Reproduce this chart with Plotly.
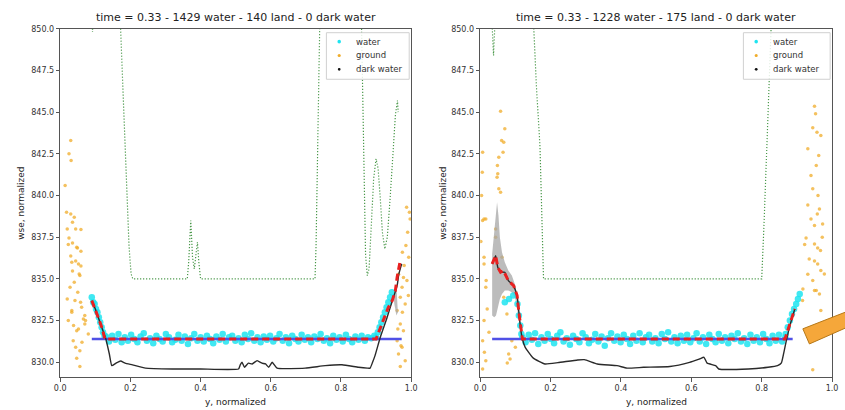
import plotly.graph_objects as go

# ---------------- data ----------------
titles = ["time = 0.33 - 1429 water - 140 land - 0 dark water",
          "time = 0.33 - 1228 water - 175 land - 0 dark water"]
x_ticks = [0.0, 0.2, 0.4, 0.6, 0.8, 1.0]
y_ticks = [830.0, 832.5, 835.0, 837.5, 840.0, 842.5, 845.0, 847.5, 850.0]
legend_names = ["water", "ground", "dark water"]

# ----- left panel -----
L_green_x = [0.088, 0.092, 0.096, 0.168, 0.172, 0.178, 0.184, 0.190, 0.196, 0.202, 0.207,
             0.362, 0.366, 0.372, 0.377, 0.382, 0.387, 0.391, 0.395, 0.400,
             0.726, 0.729, 0.733, 0.738, 0.741,
             0.857, 0.862, 0.866, 0.870, 0.875, 0.880, 0.886, 0.893, 0.900, 0.906, 0.912,
             0.918, 0.925, 0.932, 0.940, 0.948, 0.955, 0.961, 0.963]
L_green_y = [852.0, 849.8, 852.0, 852.0, 850.0, 847.0, 843.5, 840.0, 837.0, 835.3, 835.0,
             835.0, 836.0, 838.5, 836.3, 835.6, 836.5, 837.2, 836.0, 835.0,
             835.0, 837.0, 842.0, 848.0, 852.0,
             852.0, 846.0, 840.0, 836.5, 835.2, 835.6, 838.0, 841.0, 842.2, 841.6, 839.8,
             837.8, 836.8, 837.5, 839.8, 842.5, 844.8, 845.7, 845.0]

L_ground_x = [0.030, 0.025, 0.031, 0.014, 0.030, 0.040, 0.035, 0.044, 0.059, 0.025, 0.035, 0.049,
              0.059, 0.030, 0.044, 0.059, 0.035, 0.054, 0.023, 0.047, 0.033, 0.052, 0.056, 0.028,
              0.042, 0.033, 0.061, 0.070, 0.023, 0.047, 0.080, 0.037, 0.056, 0.047, 0.056, 0.070,
              0.033, 0.066, 0.072, 0.040, 0.050, 0.020, 0.062, 0.044, 0.052, 0.058, 0.038, 0.018,
              0.020,
              0.964, 0.978, 0.988, 0.974, 0.969, 0.983, 0.960, 0.969, 0.978, 0.960, 0.974, 0.964,
              0.983, 0.969, 0.987, 0.997, 0.990, 0.985, 0.993, 0.980, 0.975, 0.992, 0.962, 0.971,
              0.975, 0.995]
L_ground_y = [843.3, 842.5, 842.1, 840.6, 838.9, 838.7, 838.4, 838.0, 837.96, 837.45, 837.15, 836.86,
              836.66, 836.37, 836.07, 835.77, 835.48, 835.3, 837.06, 836.9, 836.0, 835.9, 835.2, 834.5,
              833.7, 833.1, 833.3, 832.3, 832.5, 831.9, 831.7, 831.3, 830.7, 830.24, 829.75, 832.8,
              833.0, 832.6, 832.5, 834.8, 834.2, 833.8, 831.2, 830.9, 832.0, 833.6, 832.2, 839.0,
              838.0,
              835.28, 835.08, 834.9, 834.5, 833.9, 833.5, 833.1, 832.3, 831.9, 831.3, 830.9, 830.5,
              830.1, 829.75, 839.3, 838.6, 837.8, 837.0, 836.3, 835.8, 836.6, 834.0, 832.0, 831.0,
              833.0, 839.0]

L_water_x = [0.090, 0.094, 0.098, 0.102, 0.106, 0.110, 0.114, 0.118, 0.122, 0.126,
             0.130, 0.139, 0.148, 0.157, 0.166, 0.175, 0.184, 0.193, 0.202, 0.211,
             0.220, 0.229, 0.238, 0.247, 0.256, 0.265, 0.274, 0.283, 0.292, 0.301,
             0.310, 0.319, 0.328, 0.337, 0.346, 0.355, 0.364, 0.373, 0.382, 0.391,
             0.400, 0.409, 0.418, 0.427, 0.436, 0.445, 0.454, 0.463, 0.472, 0.481,
             0.490, 0.499, 0.508, 0.517, 0.526, 0.535, 0.544, 0.553, 0.562, 0.571,
             0.580, 0.589, 0.598, 0.607, 0.616, 0.625, 0.634, 0.643, 0.652, 0.661,
             0.670, 0.679, 0.688, 0.697, 0.706, 0.715, 0.724, 0.733, 0.742, 0.751,
             0.760, 0.769, 0.778, 0.787, 0.796, 0.805, 0.814, 0.823, 0.832, 0.841,
             0.850, 0.859, 0.868, 0.877, 0.886, 0.895,
             0.900, 0.905, 0.910, 0.915, 0.920, 0.925, 0.930, 0.935, 0.940, 0.945]
L_water_y = [833.9, 833.6, 833.5, 833.2, 833.0, 832.7, 832.4, 832.1, 831.8, 831.6,
             831.55, 831.25, 831.6, 831.35, 831.7, 831.2, 831.5, 831.3, 831.65, 831.4,
             831.2, 831.55, 831.75, 831.3, 831.45, 831.15, 831.6, 831.4, 831.25, 831.7,
             831.5, 831.2, 831.35, 831.65, 831.3, 831.55, 831.1, 831.45, 831.7, 831.3,
             831.5, 831.25, 831.6, 831.4, 831.15, 831.55, 831.35, 831.7, 831.25, 831.5,
             831.6, 831.3, 831.45, 831.2, 831.65, 831.4, 831.75, 831.3, 831.5, 831.2,
             831.55, 831.35, 831.6, 831.25, 831.45, 831.7, 831.3, 831.5, 831.15, 831.6,
             831.4, 831.25, 831.65, 831.35, 831.5, 831.2, 831.55, 831.4, 831.7, 831.3,
             831.45, 831.15, 831.6, 831.35, 831.5, 831.25, 831.65, 831.4, 831.2, 831.55,
             831.35, 831.6, 831.3, 831.5, 831.45, 831.6,
             831.5, 831.8, 832.1, 832.4, 832.7, 833.0, 833.3, 833.6, 833.9, 834.2]

L_blue_x = [0.090, 0.973]
L_blue_y = [831.4, 831.4]

L_black_x = [0.090, 0.100, 0.110, 0.120, 0.130, 0.140, 0.147, 0.159, 0.172, 0.185, 0.206, 0.243,
             0.320, 0.400, 0.508, 0.513, 0.518, 0.525, 0.536, 0.547, 0.561, 0.575, 0.585, 0.594,
             0.604, 0.618, 0.698, 0.755, 0.803, 0.850, 0.875, 0.883, 0.890, 0.897, 0.912, 0.930,
             0.945, 0.960, 0.965, 0.973]
L_black_y = [833.7, 833.2, 832.6, 832.0, 831.4, 830.5, 829.8, 829.95, 830.08, 829.95, 829.85, 829.65,
             829.6, 829.6, 829.6, 829.85, 830.0, 829.7, 829.95, 829.9, 830.1, 829.95, 829.9, 829.7,
             830.0, 829.65, 829.65, 829.8, 829.85, 829.7, 829.65, 829.65, 830.0, 830.4, 831.5, 832.6,
             833.6, 834.6, 835.3, 835.9]

L_red_x = [0.090, 0.100, 0.110, 0.120, 0.127, 0.900, 0.920, 0.935, 0.946, 0.955, 0.960, 0.965, 0.968]
L_red_y = [833.7, 833.2, 832.6, 832.0, 831.4, 831.4, 832.5, 833.3, 833.7, 834.3, 835.1, 835.8, 836.0]

L_band_x = [0.950, 0.958, 0.962, 0.958, 0.952]
L_band_y = [834.0, 834.6, 833.0, 832.8, 833.5]

# ----- right panel -----
R_green_x = [0.030, 0.034, 0.038, 0.042, 0.046, 0.148, 0.152, 0.160, 0.170, 0.175, 0.180, 0.190,
             0.800, 0.807, 0.814, 0.826, 0.830]
R_green_y = [852.0, 850.3, 848.4, 850.3, 852.0, 852.0, 850.0, 846.5, 842.9, 838.5, 835.0, 835.0,
             835.0, 838.5, 843.0, 850.0, 852.0]

R_ground_x = [0.058, 0.061, 0.067, 0.007, 0.053, 0.048, 0.050, 0.006, 0.058, 0.011, 0.044, 0.062,
              0.002, 0.011, 0.017, 0.007, 0.016, 0.049, 0.053, 0.044, 0.011, 0.016, 0.011, 0.007,
              0.016, 0.007, 0.081, 0.077, 0.090, 0.100, 0.067, 0.076, 0.020, 0.004, 0.070, 0.065,
              0.025, 0.012, 0.085,
              0.950, 0.953, 0.945, 0.957, 0.968, 0.931, 0.940, 0.945, 0.960, 0.931, 0.964, 0.950,
              0.973, 0.926, 0.950, 0.967, 0.959, 0.978, 0.945, 0.955, 0.922, 0.959, 0.950, 0.931,
              0.968, 0.950, 0.917, 0.964, 0.968, 0.945, 0.916, 0.955, 0.962, 0.940, 0.958, 0.935,
              0.972]
R_ground_y = [845.06, 843.3, 843.2, 842.6, 842.3, 841.1, 841.3, 841.4, 840.2, 838.6, 837.5, 836.3,
              837.25, 835.9, 834.9, 838.5, 838.6, 841.8, 840.4, 838.0, 836.3, 834.5, 832.5, 831.3,
              830.1, 829.6, 830.5, 829.96, 831.3, 830.9, 833.9, 832.9, 833.2, 840.0, 844.0, 842.6,
              831.8, 830.6, 830.2,
              845.36, 844.9, 844.07, 843.8, 843.6, 842.8, 841.2, 840.4, 840.0, 839.43, 839.2, 838.2,
              838.3, 837.45, 837.1, 836.7, 835.9, 835.3, 834.9, 834.3, 837.06, 836.86, 836.07, 835.28,
              835.5, 834.3, 834.4, 834.1, 833.1, 829.55, 833.7, 841.8, 842.4, 838.6, 838.9, 836.2,
              837.5]

R_water_x = [0.070, 0.082, 0.094, 0.106, 0.110, 0.114, 0.117,
             0.120, 0.129, 0.138, 0.147, 0.156, 0.165, 0.174, 0.183, 0.192, 0.201,
             0.210, 0.219, 0.228, 0.237, 0.246, 0.255, 0.264, 0.273, 0.282, 0.291,
             0.300, 0.309, 0.318, 0.327, 0.336, 0.345, 0.354, 0.363, 0.372, 0.381,
             0.390, 0.399, 0.408, 0.417, 0.426, 0.435, 0.444, 0.453, 0.462, 0.471,
             0.480, 0.489, 0.498, 0.507, 0.516, 0.525, 0.534, 0.543, 0.552, 0.561,
             0.570, 0.579, 0.588, 0.597, 0.606, 0.615, 0.624, 0.633, 0.642, 0.651,
             0.660, 0.669, 0.678, 0.687, 0.696, 0.705, 0.714, 0.723, 0.732, 0.741,
             0.750, 0.759, 0.768, 0.777, 0.786, 0.795, 0.804, 0.813, 0.822, 0.831,
             0.840, 0.849, 0.858, 0.867,
             0.868, 0.874, 0.880, 0.886, 0.892, 0.898, 0.903, 0.908]
R_water_y = [833.6, 833.8, 834.0, 833.5, 832.8, 832.2, 831.7,
             831.5, 831.2, 831.65, 831.35, 831.75, 831.1, 831.5, 831.3, 831.7, 831.4,
             831.15, 831.6, 831.8, 831.25, 831.45, 831.05, 831.6, 831.4, 831.2, 831.75,
             831.5, 831.15, 831.35, 831.7, 831.25, 831.55, 831.0, 831.45, 831.75, 831.3,
             831.55, 831.2, 831.65, 831.4, 831.1, 831.6, 831.3, 831.75, 831.2, 831.5,
             831.65, 831.25, 831.45, 831.15, 831.7, 831.4, 831.8, 831.25, 831.5, 831.15,
             831.6, 831.3, 831.65, 831.2, 831.45, 831.75, 831.25, 831.5, 831.1, 831.65,
             831.4, 831.2, 831.7, 831.3, 831.5, 831.15, 831.6, 831.4, 831.75, 831.25,
             831.45, 831.1, 831.65, 831.3, 831.5, 831.2, 831.7, 831.4, 831.15, 831.6,
             831.3, 831.65, 831.25, 831.5,
             831.7, 832.1, 832.5, 832.9, 833.2, 833.5, 833.8, 834.1]

R_blue_x = [0.034, 0.888]
R_blue_y = [831.4, 831.4]

R_black_x = [0.034, 0.044, 0.050, 0.058, 0.070, 0.080, 0.095, 0.105, 0.110, 0.115, 0.120, 0.128,
             0.151, 0.184, 0.221, 0.277, 0.296, 0.333, 0.389, 0.417, 0.464, 0.539, 0.595, 0.623,
             0.636, 0.645, 0.669, 0.678, 0.762, 0.818, 0.845, 0.856, 0.863, 0.870, 0.880, 0.894]
R_black_y = [835.9, 836.4, 835.7, 835.4, 835.4, 834.9, 834.6, 834.0, 833.0, 832.0, 831.4, 830.9,
             830.25, 829.9, 829.98, 830.14, 830.16, 829.9, 829.8, 829.65, 829.7, 829.75, 830.0, 830.2,
             830.3, 829.95, 829.8, 829.6, 829.6, 829.7, 829.8, 829.97, 830.6, 831.3, 832.2, 833.2]

R_red_x = [0.034, 0.044, 0.050, 0.058, 0.066, 0.080, 0.095, 0.105, 0.110, 0.115, 0.120,
           0.866, 0.875, 0.885, 0.894]
R_red_y = [835.9, 836.4, 835.7, 835.4, 835.5, 834.9, 834.6, 834.0, 833.0, 832.0, 831.4,
           831.4, 832.0, 832.7, 833.2]

R_band_upper_x = [0.034, 0.040, 0.045, 0.048, 0.052, 0.056, 0.062, 0.070, 0.080, 0.090, 0.100, 0.108, 0.115]
R_band_upper_y = [836.5, 838.0, 839.3, 839.6, 838.8, 837.5, 836.6, 836.0, 835.5, 835.2, 834.6, 833.6, 832.2]
R_band_lower_y = [832.8, 832.7, 832.8, 833.0, 833.4, 833.8, 834.1, 834.3, 834.3, 834.2, 833.8, 832.8, 831.8]

# ---------------- figure ----------------
W, H = 845, 410
fig = go.Figure()

C_GREEN = "#4a984a"
C_GROUND = "#f0ac2a"
C_WATER = "#1ee4f0"
C_BLUE = "#5050e6"
C_RED = "#e82020"
C_DARK = "#111111"


def add_panel(sfx, gx, gy, grx, gry, wx, wy, bx, by, kx, ky, rx, ry, band_x, band_y):
    xa, ya = "x" + sfx, "y" + sfx
    common = dict(xaxis=xa, yaxis=ya, showlegend=False, hoverinfo="skip")
    fig.add_trace(go.Scatter(x=gx, y=gy, mode="lines", **common,
                             line=dict(color=C_GREEN, width=1.2, dash="1.2px,1.8px")))
    fig.add_trace(go.Scatter(x=grx, y=gry, mode="markers", **common,
                             marker=dict(color=C_GROUND, size=3.5, opacity=0.75)))
    fig.add_trace(go.Scatter(x=band_x, y=band_y, mode="lines", fill="toself", **common,
                             line=dict(width=0), fillcolor="rgba(165,165,165,0.75)"))
    fig.add_trace(go.Scatter(x=wx, y=wy, mode="markers", **common,
                             marker=dict(color=C_WATER, size=6.5, opacity=0.85)))
    fig.add_trace(go.Scatter(x=bx, y=by, mode="lines", **common,
                             line=dict(color=C_BLUE, width=2.5)))
    fig.add_trace(go.Scatter(x=kx, y=ky, mode="lines", **common,
                             line=dict(color="#2a2a2a", width=1.4, shape="spline", smoothing=0.4)))
    fig.add_trace(go.Scatter(x=rx, y=ry, mode="lines", **common,
                             line=dict(color=C_RED, width=3, dash="7px,4px")))


add_panel("", L_green_x, L_green_y, L_ground_x, L_ground_y, L_water_x, L_water_y,
          L_blue_x, L_blue_y, L_black_x, L_black_y, L_red_x, L_red_y, L_band_x, L_band_y)
add_panel("2", R_green_x, R_green_y, R_ground_x, R_ground_y, R_water_x, R_water_y,
          R_blue_x, R_blue_y, R_black_x, R_black_y, R_red_x, R_red_y,
          R_band_upper_x + R_band_upper_x[::-1], R_band_upper_y + R_band_lower_y[::-1])


def px(x):
    return x / W


def py(y):
    return 1 - y / H


axis_common = dict(showgrid=False, zeroline=False, showline=True, mirror=True, linecolor="#555555",
                   linewidth=1, ticks="outside", ticklen=3.5, tickcolor="#555555",
                   tickfont=dict(family="DejaVu Sans", size=8, color="#333333"))

ydom = [py(377), py(25)]
fig.update_layout(
    width=W, height=H, margin=dict(l=0, r=0, t=0, b=0),
    paper_bgcolor="white", plot_bgcolor="white", showlegend=False,
    xaxis=dict(domain=[px(55), px(411)], range=[0, 1], tickvals=x_ticks,
               ticktext=[f"{v:.1f}" for v in x_ticks], anchor="y", **axis_common),
    yaxis=dict(domain=ydom, range=[829.1, 850.0], tickvals=y_ticks,
               ticktext=[f"{v:.1f}" for v in y_ticks], anchor="x", **axis_common),
    xaxis2=dict(domain=[px(481), px(838)], range=[0, 1], tickvals=x_ticks,
                ticktext=[f"{v:.1f}" for v in x_ticks], anchor="y2", **axis_common),
    yaxis2=dict(domain=ydom, range=[829.1, 850.0], tickvals=y_ticks,
                ticktext=[f"{v:.1f}" for v in y_ticks], anchor="x2", **axis_common),
)

ann_font = dict(family="DejaVu Sans", color="#222222")
annotations = []
shapes = []
for title, cx in zip(titles, [233, 659.5]):
    annotations.append(dict(text=title, x=px(cx), y=py(14), xref="paper", yref="paper",
                            showarrow=False, xanchor="center", yanchor="middle",
                            font=dict(size=11, **ann_font)))
    annotations.append(dict(text="y, normalized", x=px(cx), y=py(402), xref="paper", yref="paper",
                            showarrow=False, xanchor="center", yanchor="middle",
                            font=dict(size=9, **ann_font)))
for lx in [15, 443]:
    annotations.append(dict(text="wse, normalized", x=px(lx), y=py(201), xref="paper", yref="paper",
                            showarrow=False, textangle=-90, xanchor="center", yanchor="middle",
                            font=dict(size=9, **ann_font)))

# matplotlib-style legends (box, marker, label) drawn in pixel positions
for bx0, bx1 in [(325, 409), (748, 836)]:
    shapes.append(dict(type="rect", xref="paper", yref="paper",
                       x0=px(bx0), x1=px(bx1), y0=py(76), y1=py(29),
                       fillcolor="rgba(255,255,255,0.85)", line=dict(color="#d0d0d0", width=1)))
    for name, col, r, ly in zip(legend_names, [C_WATER, C_GROUND, C_DARK], [1.8, 1.6, 1.4], [38, 52, 66]):
        mx = bx0 + 13
        shapes.append(dict(type="circle", xref="paper", yref="paper",
                           x0=px(mx - r), x1=px(mx + r), y0=py(ly + r), y1=py(ly - r),
                           fillcolor=col, line=dict(width=0)))
        annotations.append(dict(text=name, x=px(bx0 + 28), y=py(ly), xref="paper", yref="paper",
                                showarrow=False, xanchor="left", yanchor="middle",
                                font=dict(size=8.5, family="DejaVu Sans", color="#333333")))

# orange arrow pointing into the right panel (partly outside the figure)
arrow_pts = [(808.3, 328.0), (852, 311.0), (852, 327.0), (815.0, 343.3)]
path = "M " + " L ".join(f"{px(a):.4f},{py(b):.4f}" for a, b in arrow_pts) + " Z"
shapes.append(dict(type="path", path=path, xref="paper", yref="paper",
                   fillcolor="#f5a73a", line=dict(color="#b67818", width=1)))

fig.update_layout(annotations=annotations, shapes=shapes)
fig.write_html("out.html")
